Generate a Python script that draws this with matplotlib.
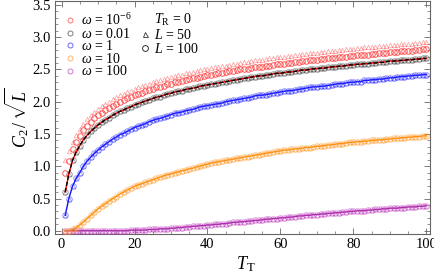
import matplotlib
matplotlib.use("Agg")
import matplotlib.pyplot as plt
import numpy as np
from matplotlib.lines import Line2D
from matplotlib.ticker import MultipleLocator

plt.rcParams["font.family"] = ["Liberation Serif", "DejaVu Serif"]
plt.rcParams["mathtext.fontset"] = "custom"
plt.rcParams["mathtext.rm"] = "Liberation Serif"
plt.rcParams["mathtext.it"] = "Liberation Serif:italic"

# temperature T_T, one sample per unit
t_vals = np.arange(1, 101)

# omega = 1e-6, L = 50 (triangles)
red_l50 = [
    1.10, 1.24, 1.37, 1.48, 1.57, 1.66, 1.73, 1.79, 1.84, 1.89,
    1.93, 1.97, 2.00, 2.04, 2.07, 2.10, 2.12, 2.15, 2.17, 2.20,
    2.22, 2.24, 2.26, 2.28, 2.30, 2.32, 2.33, 2.35, 2.37, 2.38,
    2.40, 2.41, 2.42, 2.44, 2.45, 2.46, 2.47, 2.49, 2.50, 2.51,
    2.52, 2.53, 2.54, 2.55, 2.56, 2.57, 2.58, 2.59, 2.60, 2.61,
    2.62, 2.63, 2.64, 2.65, 2.65, 2.66, 2.67, 2.68, 2.69, 2.69,
    2.70, 2.71, 2.71, 2.72, 2.73, 2.74, 2.74, 2.75, 2.76, 2.76,
    2.77, 2.77, 2.78, 2.79, 2.79, 2.80, 2.80, 2.81, 2.82, 2.82,
    2.83, 2.83, 2.84, 2.84, 2.85, 2.85, 2.86, 2.86, 2.87, 2.88,
    2.88, 2.88, 2.89, 2.89, 2.90, 2.90, 2.91, 2.91, 2.92, 2.92,
]
# omega = 1e-6, L = 100 (circles)
red_l100 = [
    0.90, 1.08, 1.26, 1.37, 1.47, 1.56, 1.63, 1.69, 1.74, 1.79,
    1.83, 1.87, 1.90, 1.94, 1.97, 2.00, 2.02, 2.05, 2.07, 2.10,
    2.12, 2.14, 2.16, 2.18, 2.20, 2.22, 2.23, 2.25, 2.27, 2.28,
    2.30, 2.31, 2.32, 2.34, 2.35, 2.36, 2.37, 2.39, 2.40, 2.41,
    2.42, 2.43, 2.44, 2.45, 2.46, 2.47, 2.48, 2.49, 2.50, 2.51,
    2.51, 2.52, 2.53, 2.54, 2.54, 2.55, 2.56, 2.57, 2.58, 2.58,
    2.59, 2.60, 2.60, 2.61, 2.62, 2.63, 2.63, 2.64, 2.65, 2.65,
    2.66, 2.66, 2.67, 2.68, 2.68, 2.69, 2.69, 2.70, 2.71, 2.71,
    2.72, 2.72, 2.73, 2.73, 2.74, 2.74, 2.75, 2.75, 2.76, 2.77,
    2.77, 2.77, 2.78, 2.78, 2.79, 2.79, 2.80, 2.80, 2.81, 2.81,
]
# omega = 0.01 (L = 50 and L = 100 coincide)
black_vals = [
    0.60, 0.88, 1.09, 1.22, 1.32, 1.41, 1.48, 1.54, 1.59, 1.64,
    1.68, 1.72, 1.75, 1.79, 1.82, 1.85, 1.87, 1.90, 1.92, 1.95,
    1.97, 1.99, 2.01, 2.03, 2.05, 2.07, 2.08, 2.10, 2.12, 2.13,
    2.15, 2.16, 2.17, 2.19, 2.20, 2.21, 2.22, 2.24, 2.25, 2.26,
    2.27, 2.28, 2.29, 2.30, 2.31, 2.32, 2.33, 2.34, 2.35, 2.36,
    2.37, 2.38, 2.39, 2.40, 2.40, 2.41, 2.42, 2.43, 2.44, 2.44,
    2.45, 2.46, 2.46, 2.47, 2.48, 2.49, 2.49, 2.50, 2.51, 2.51,
    2.52, 2.52, 2.53, 2.54, 2.54, 2.55, 2.55, 2.56, 2.57, 2.57,
    2.58, 2.58, 2.59, 2.59, 2.60, 2.60, 2.61, 2.61, 2.62, 2.63,
    2.63, 2.63, 2.64, 2.64, 2.65, 2.65, 2.66, 2.66, 2.67, 2.67,
]
# omega = 1
blue_vals = [
    0.24, 0.50, 0.69, 0.81, 0.90, 1.00, 1.08, 1.14, 1.20, 1.25,
    1.30, 1.34, 1.38, 1.42, 1.45, 1.49, 1.51, 1.54, 1.57, 1.60,
    1.62, 1.64, 1.66, 1.69, 1.71, 1.73, 1.74, 1.76, 1.78, 1.80,
    1.82, 1.83, 1.84, 1.86, 1.87, 1.88, 1.90, 1.92, 1.93, 1.94,
    1.95, 1.96, 1.97, 1.98, 2.00, 2.01, 2.02, 2.03, 2.04, 2.05,
    2.06, 2.07, 2.09, 2.10, 2.10, 2.11, 2.12, 2.13, 2.14, 2.15,
    2.16, 2.17, 2.17, 2.18, 2.19, 2.20, 2.21, 2.22, 2.23, 2.23,
    2.24, 2.24, 2.25, 2.26, 2.27, 2.28, 2.28, 2.29, 2.30, 2.30,
    2.31, 2.31, 2.33, 2.33, 2.34, 2.34, 2.35, 2.35, 2.36, 2.37,
    2.37, 2.38, 2.39, 2.39, 2.40, 2.40, 2.41, 2.41, 2.42, 2.42,
]
# omega = 10
orange_vals = [
    0.00, 0.00, 0.02, 0.05, 0.09, 0.14, 0.19, 0.24, 0.29, 0.34,
    0.38, 0.42, 0.46, 0.50, 0.53, 0.57, 0.60, 0.63, 0.66, 0.69,
    0.71, 0.73, 0.75, 0.77, 0.79, 0.81, 0.83, 0.85, 0.87, 0.88,
    0.90, 0.91, 0.93, 0.94, 0.96, 0.97, 0.99, 1.00, 1.02, 1.03,
    1.05, 1.06, 1.07, 1.08, 1.09, 1.10, 1.11, 1.12, 1.13, 1.14,
    1.15, 1.16, 1.17, 1.18, 1.19, 1.20, 1.21, 1.22, 1.23, 1.24,
    1.25, 1.25, 1.26, 1.27, 1.27, 1.28, 1.29, 1.29, 1.30, 1.31,
    1.31, 1.32, 1.33, 1.33, 1.34, 1.35, 1.35, 1.36, 1.37, 1.37,
    1.38, 1.38, 1.39, 1.39, 1.40, 1.40, 1.41, 1.41, 1.42, 1.42,
    1.43, 1.43, 1.44, 1.44, 1.45, 1.45, 1.46, 1.46, 1.47, 1.47,
]
# omega = 100
purple_vals = [
    0.00, 0.00, 0.00, 0.00, 0.00, 0.00, 0.00, 0.00, 0.00, 0.00,
    0.00, 0.00, 0.00, 0.00, 0.00, 0.00, 0.00, 0.00, 0.01, 0.01,
    0.01, 0.01, 0.01, 0.02, 0.02, 0.02, 0.03, 0.03, 0.03, 0.04,
    0.04, 0.05, 0.05, 0.06, 0.06, 0.07, 0.07, 0.08, 0.08, 0.09,
    0.09, 0.10, 0.10, 0.11, 0.11, 0.12, 0.13, 0.13, 0.14, 0.14,
    0.15, 0.15, 0.16, 0.16, 0.17, 0.18, 0.18, 0.19, 0.19, 0.20,
    0.20, 0.21, 0.21, 0.22, 0.23, 0.23, 0.24, 0.24, 0.25, 0.25,
    0.26, 0.26, 0.27, 0.27, 0.28, 0.28, 0.29, 0.29, 0.30, 0.30,
    0.31, 0.31, 0.31, 0.32, 0.32, 0.33, 0.33, 0.34, 0.34, 0.35,
    0.35, 0.35, 0.36, 0.36, 0.37, 0.37, 0.37, 0.38, 0.38, 0.39,
]

omega_labels = [r"$\omega$ = 10$^{-6}$", r"$\omega$ = 0.01", r"$\omega$ = 1",
                r"$\omega$ = 10", r"$\omega$ = 100"]
colors = ["#ff3b3b", "#444444", "#2a2aff", "#ff9a2a", "#c040c0"]

fig = plt.figure(figsize=(4.34, 2.73), dpi=100)
ax = fig.add_axes([55 / 434, 1 - 234 / 273, 375 / 434, 233 / 273])

circ = dict(ls="none", marker="o", ms=4.0, mfc="none", mew=0.7)
tri = dict(ls="none", marker="^", ms=3.2, mfc="none", mew=0.6)

# continuum lines
ax.plot(t_vals, purple_vals, color="#a020a0", lw=1.0, zorder=2)
ax.plot(t_vals, orange_vals, color="#ff8c00", lw=1.0, zorder=2)
ax.plot(t_vals, blue_vals, color="#1010ff", lw=1.0, zorder=2)
ax.plot(t_vals, black_vals, color="red", lw=1.0, zorder=4)
ax.plot(t_vals, black_vals, color="black", lw=1.0, dashes=(3, 1.5), zorder=5)

# lattice data
for vals, col in [(purple_vals, colors[4]), (orange_vals, colors[3]),
                  (blue_vals, colors[2]), (black_vals, colors[1])]:
    ax.plot(t_vals, vals, color=col, alpha=0.4, zorder=3, **tri)
    ax.plot(t_vals, vals, color=col, alpha=0.5, zorder=3, **circ)
ax.plot(t_vals, red_l50, color=colors[0], alpha=0.45, zorder=3, **tri)
ax.plot(t_vals, red_l100, color=colors[0], alpha=0.85, zorder=3, **circ)

ax.set_xlim(-1.8, 101)
ax.set_ylim(-0.05, 3.56)
ax.xaxis.set_major_locator(MultipleLocator(20))
ax.xaxis.set_minor_locator(MultipleLocator(5))
ax.yaxis.set_major_locator(MultipleLocator(0.5))
ax.yaxis.set_minor_locator(MultipleLocator(0.1))
ax.yaxis.set_major_formatter(lambda v, p: f"{v:.1f}")
ax.tick_params(which="both", direction="in", top=True, right=True,
               labelsize=10.5, color="#666666", pad=3)
ax.tick_params(which="major", length=4, width=0.6)
ax.tick_params(which="minor", length=2, width=0.5)
for sp in ax.spines.values():
    sp.set_color("#666666")
    sp.set_linewidth(0.8)

ax.set_xlabel(r"$T_{\mathrm{T}}$", fontsize=13)
ax.xaxis.set_label_coords(0.51, -0.085)
ax.set_ylabel(r"$C_2\,/\,\sqrt{L}$", fontsize=13)
ax.yaxis.set_label_coords(-0.065, 0.5)

handles = [Line2D([], [], color=c, marker="o", ls="none", ms=3.6, mfc="none",
                  mew=0.7, alpha=0.7) for c in colors]
leg = ax.legend(handles, omega_labels, loc="upper left", bbox_to_anchor=(0.0, 1.0),
                frameon=False, fontsize=10, handlelength=0.6, handletextpad=0.5,
                labelspacing=-0.1, borderpad=0.5, borderaxespad=0.3)
ax.add_artist(leg)

h2 = [Line2D([], [], ls="none"),
      Line2D([], [], color="#333333", marker="^", ls="none", ms=3.6, mfc="none", mew=0.6),
      Line2D([], [], color="#333333", marker="o", ls="none", ms=4.2, mfc="none", mew=0.7)]
ax.legend(h2, [r"$T_{\mathrm{R}}$ = 0", r"$L$ = 50", r"$L$ = 100"],
          loc="upper left", bbox_to_anchor=(0.2, 1.0), frameon=False, fontsize=10,
          handlelength=0.6, handletextpad=0.3, labelspacing=0.0, borderpad=0.5,
          borderaxespad=0.3)

fig.savefig("out.png", dpi=100)
